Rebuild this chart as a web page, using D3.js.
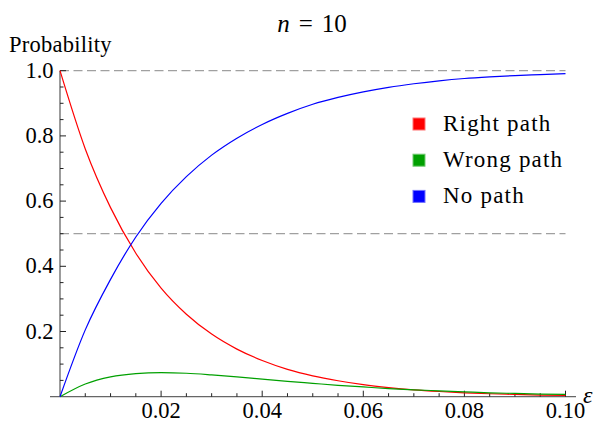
<!DOCTYPE html>
<html>
<head>
<meta charset="utf-8">
<script src="https://cdn.jsdelivr.net/npm/d3@7"></script>
<style>
  body { margin: 0; background: #fff; }
</style>
</head>
<body>
<div id="chart"></div>
<script>
// values (eps step 0.005)
const epsilon = [0, 0.005, 0.01, 0.015, 0.02, 0.025, 0.03, 0.035, 0.04, 0.045, 0.05,
  0.055, 0.06, 0.065, 0.07, 0.075, 0.08, 0.085, 0.09, 0.095, 0.1];
const rightPath = [1.0, 0.76, 0.58, 0.44, 0.333, 0.253, 0.192, 0.146, 0.111, 0.084, 0.064,
  0.049, 0.037, 0.028, 0.021, 0.016, 0.012, 0.009, 0.007, 0.005, 0.004];
const wrongPath = [0, 0.039, 0.061, 0.071, 0.074, 0.072, 0.067, 0.061, 0.054, 0.047, 0.041,
  0.035, 0.030, 0.025, 0.021, 0.018, 0.015, 0.012, 0.010, 0.008, 0.007];
const noPath = [0, 0.205, 0.36, 0.49, 0.593, 0.675, 0.741, 0.793, 0.835, 0.869, 0.897,
  0.918, 0.935, 0.949, 0.96, 0.969, 0.976, 0.981, 0.985, 0.988, 0.991];
const xTicks = [0.02, 0.04, 0.06, 0.08, 0.10];
const xTickLabels = ["0.02", "0.04", "0.06", "0.08", "0.10"];
const yTicks = [0.2, 0.4, 0.6, 0.8, 1.0];
const yTickLabels = ["0.2", "0.4", "0.6", "0.8", "1.0"];
const guideLines = [0.5, 1.0];
const seriesNames = ["Right path", "Wrong path", "No path"];
const seriesColors = ["#ff0000", "#00a000", "#0000ff"];

const width = 601, height = 422;
const serif = "'Liberation Serif', 'Times New Roman', Tinos, 'DejaVu Serif', serif";
const x = d3.scaleLinear().domain([0, 0.1]).range([60, 565.5]);
const y = d3.scaleLinear().domain([0, 1]).range([396.7, 70.7]);

const svg = d3.select("#chart").append("svg")
  .attr("width", width)
  .attr("height", height)
  .style("font-family", serif);

// dashed guides
svg.selectAll(".guide")
  .data(guideLines)
  .enter().append("line")
  .attr("x1", x(0)).attr("x2", x(0.1))
  .attr("y1", d => y(d)).attr("y2", d => y(d))
  .attr("stroke", "#a0a0a0")
  .attr("stroke-width", 1.3)
  .attr("stroke-dasharray", "9,4.5");

// x axis
const xAxis = svg.append("g").attr("transform", `translate(0,${y(0)})`);
xAxis.append("line")
  .attr("x1", 50).attr("x2", 576)
  .attr("stroke", "#666").attr("stroke-width", 1.3);
xAxis.selectAll(".minor")
  .data(d3.range(1, 21).map(i => i * 0.005))
  .enter().append("line")
  .attr("x1", d => x(d)).attr("x2", d => x(d))
  .attr("y1", 0)
  .attr("y2", (d, i) => (i + 1) % 4 === 0 ? -6 : -3.5)
  .attr("stroke", "#222").attr("stroke-width", 1);
xAxis.selectAll(".lab")
  .data(xTicks)
  .enter().append("text")
  .attr("x", d => x(d))
  .attr("y", 21.5)
  .attr("text-anchor", "middle")
  .attr("font-size", 22.5)
  .style("font-family", serif)
  .text((d, i) => xTickLabels[i]);
svg.append("text")
  .attr("x", 583).attr("y", 403)
  .attr("font-size", 24)
  .attr("font-style", "italic")
  .style("font-family", serif)
  .text("ε");

// y axis
const yAxis = svg.append("g").attr("transform", `translate(${x(0)},0)`);
yAxis.append("line")
  .attr("y1", y(0)).attr("y2", y(1))
  .attr("stroke", "#666").attr("stroke-width", 1.3);
yAxis.selectAll(".minor")
  .data(d3.range(1, 21).map(i => i * 0.05))
  .enter().append("line")
  .attr("y1", d => y(d)).attr("y2", d => y(d))
  .attr("x1", 0)
  .attr("x2", (d, i) => (i + 1) % 4 === 0 ? 6 : 3.5)
  .attr("stroke", "#222").attr("stroke-width", 1);
yAxis.selectAll(".lab")
  .data(yTicks)
  .enter().append("text")
  .attr("x", -6.5)
  .attr("y", d => y(d) + 7)
  .attr("text-anchor", "end")
  .attr("font-size", 22.5)
  .style("font-family", serif)
  .text((d, i) => yTickLabels[i]);
svg.append("text")
  .attr("x", 9).attr("y", 52)
  .attr("font-size", 22.5)
  .attr("letter-spacing", 0.25)
  .style("font-family", serif)
  .text("Probability");

// title
const title = svg.append("text")
  .attr("x", 312).attr("y", 32)
  .attr("text-anchor", "middle")
  .attr("font-size", 25)
  .style("font-family", serif);
title.append("tspan").attr("font-style", "italic").text("n");
title.append("tspan").attr("dx", 9).text("=");
title.append("tspan").attr("dx", 9).text("10");

// curves
const line = d3.line()
  .x((d, i) => x(epsilon[i]))
  .y(d => y(d))
  .curve(d3.curveMonotoneX);
const plotSeries = [rightPath, wrongPath, noPath];
svg.selectAll(".curve")
  .data(plotSeries)
  .enter().append("path")
  .attr("d", d => line(d))
  .attr("fill", "none")
  .attr("stroke", (d, i) => seriesColors[i])
  .attr("stroke-width", 1.2);

// legend
const legend = svg.selectAll(".leg")
  .data(seriesNames)
  .enter().append("g")
  .attr("transform", (d, i) => `translate(413,${118 + i * 36.2})`);
legend.append("rect")
  .attr("width", 12).attr("height", 12)
  .attr("fill", (d, i) => seriesColors[i])
  .attr("stroke", (d, i) => d3.interpolateRgb(seriesColors[i], "#fff")(0.45))
  .attr("stroke-width", 1);
legend.append("text")
  .attr("x", 30).attr("y", 12.5)
  .attr("font-size", 23)
  .attr("letter-spacing", 1.2)
  .style("font-family", serif)
  .text(d => d);
</script>
</body>
</html>
